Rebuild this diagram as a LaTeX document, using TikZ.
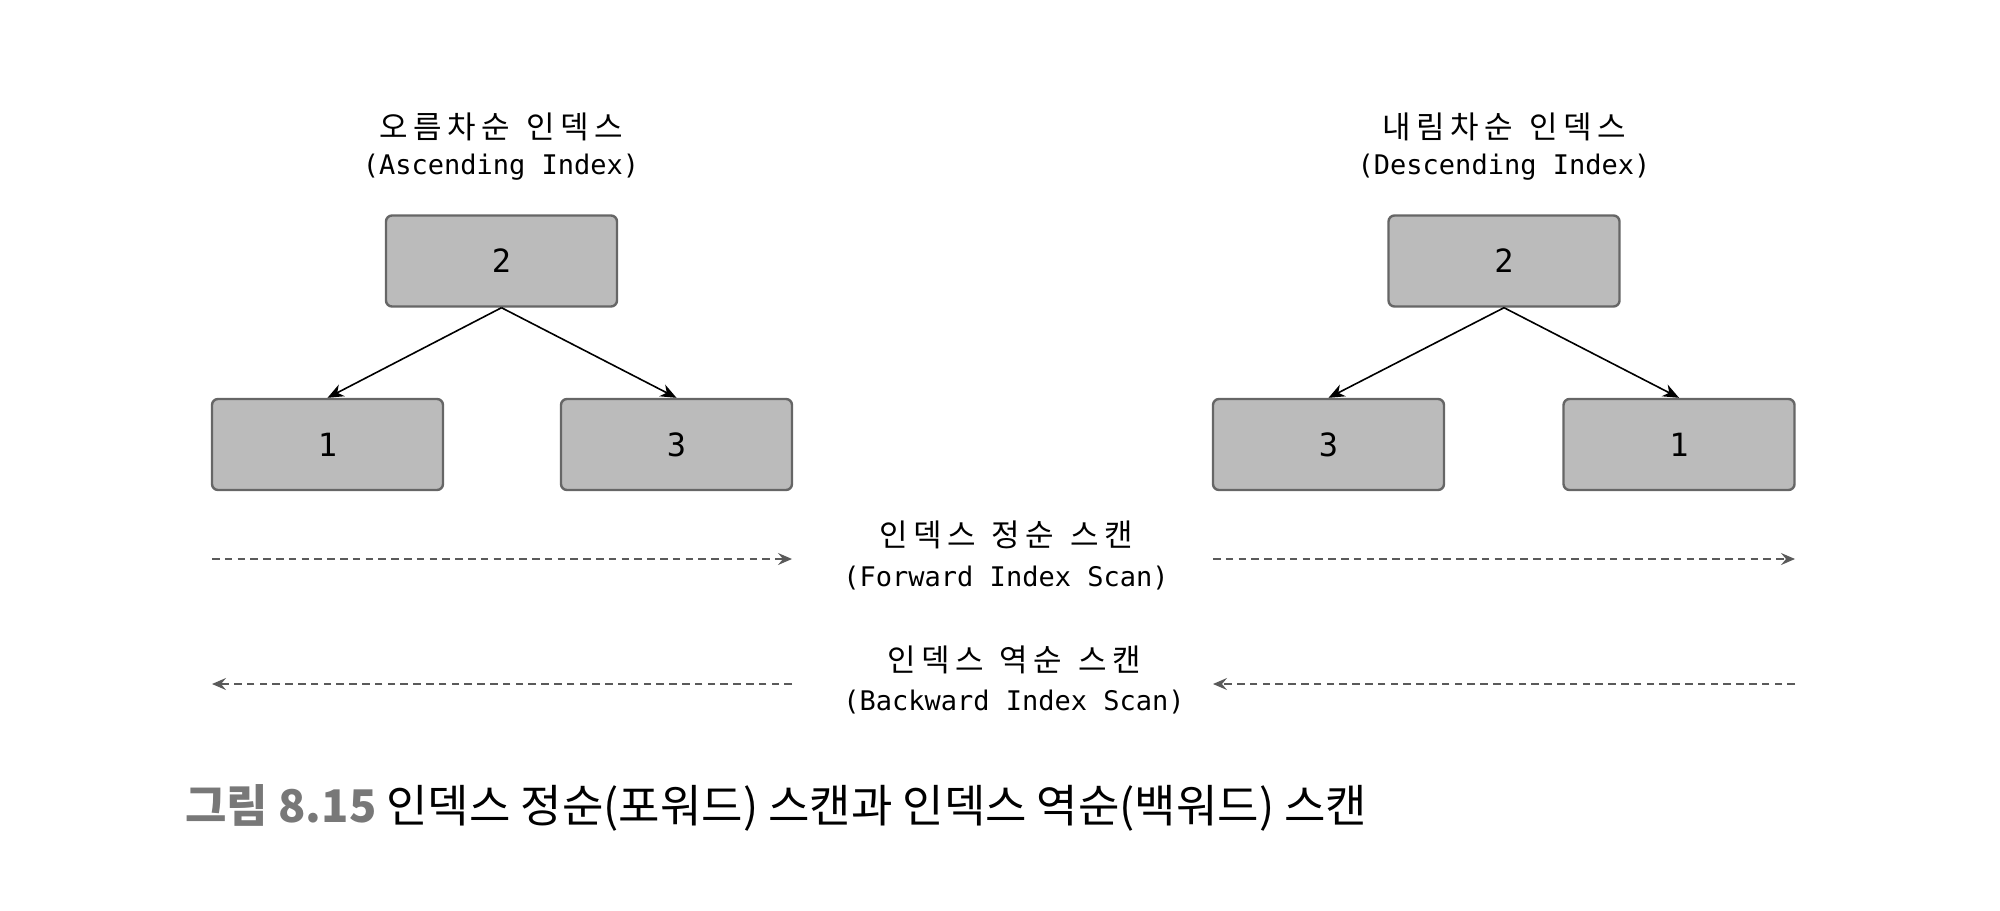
\documentclass[tikz,border=0pt]{standalone}
\usepackage{fontspec}
\usetikzlibrary{arrows.meta}
\newfontfamily\kofont{Noto Sans CJK KR}[LetterSpace=18]
\newfontfamily\capfont{Noto Sans CJK KR}
\newfontfamily\monofont{DejaVu Sans Mono}
\definecolor{boxfill}{RGB}{187,187,187}
\definecolor{boxline}{RGB}{102,102,102}
\definecolor{dashcol}{RGB}{90,90,90}
\definecolor{capgray}{RGB}{120,120,120}
\newcommand{\ksp}{\hspace{8pt}}
\begin{document}
\begin{tikzpicture}[x=0.5pt,y=-0.5pt,
  keybox/.style={draw=boxline, fill=boxfill, line width=1.2pt, rounded corners=3pt,
    minimum width=115.5pt, minimum height=45.5pt, inner sep=0pt,
    font=\monofont\fontsize{16pt}{18pt}\selectfont},
  kolabel/.style={inner sep=0pt, font=\kofont\fontsize{15.5pt}{18pt}\selectfont},
  enlabel/.style={inner sep=0pt, font=\monofont\fontsize{13.5pt}{16pt}\selectfont},
  treearrow/.style={line width=0.8pt, -{Stealth[length=8pt,width=6.5pt,inset=2.5pt]}},
  scanarrow/.style={draw=dashcol, line width=0.8pt, dash pattern=on 3.8pt off 2.6pt,
    -{Stealth[length=7pt,width=6pt,inset=2.5pt]}}
]
\useasboundingbox (0,0) rectangle (2000,910);

% Ascending index
\node[kolabel] (asckr) at (501,127) {오름차순\ksp 인덱스};
\node[enlabel] (ascen) at (501,167) {(Ascending Index)};
\node[keybox] (a2) at (501.5,261) {2};
\node[keybox] (a1) at (327.5,444.5) {1};
\node[keybox] (a3) at (676.5,444.5) {3};
\draw[treearrow] (a2.south) -- (a1.north);
\draw[treearrow] (a2.south) -- (a3.north);

% Descending index
\node[kolabel] (desckr) at (1504,127) {내림차순\ksp 인덱스};
\node[enlabel] (descen) at (1504,167) {(Descending Index)};
\node[keybox] (d2) at (1504,261) {2};
\node[keybox] (d3) at (1328.5,444.5) {3};
\node[keybox] (d1) at (1679,444.5) {1};
\draw[treearrow] (d2.south) -- (d3.north);
\draw[treearrow] (d2.south) -- (d1.north);

% Scan labels
\node[kolabel] (fwkr) at (1006,535) {인덱스\ksp 정순\ksp 스캔};
\node[enlabel] (fwen) at (1006,578) {(Forward Index Scan)};
\node[kolabel] (bwkr) at (1014,660) {인덱스\ksp 역순\ksp 스캔};
\node[enlabel] (bwen) at (1014,702) {(Backward Index Scan)};

% Scan arrows
\coordinate (f1s) at (212,559);
\coordinate (f1e) at (792,559);
\coordinate (f2s) at (1213,559);
\coordinate (f2e) at (1795,559);
\coordinate (b1s) at (792,684);
\coordinate (b1e) at (212,684);
\coordinate (b2s) at (1795,684);
\coordinate (b2e) at (1213,684);
\draw[scanarrow] (f1s) -- (f1e);
\draw[scanarrow] (f2s) -- (f2e);
\draw[scanarrow] (b1s) -- (b1e);
\draw[scanarrow] (b2s) -- (b2e);

% Caption
\node[anchor=west, inner sep=0pt, font=\capfont\fontsize{22.5pt}{26pt}\selectfont] (cap) at (185,808)
  {{\bfseries\color{capgray}그림 8.15} 인덱스 정순(포워드) 스캔과 인덱스 역순(백워드) 스캔};
\end{tikzpicture}
\end{document}
